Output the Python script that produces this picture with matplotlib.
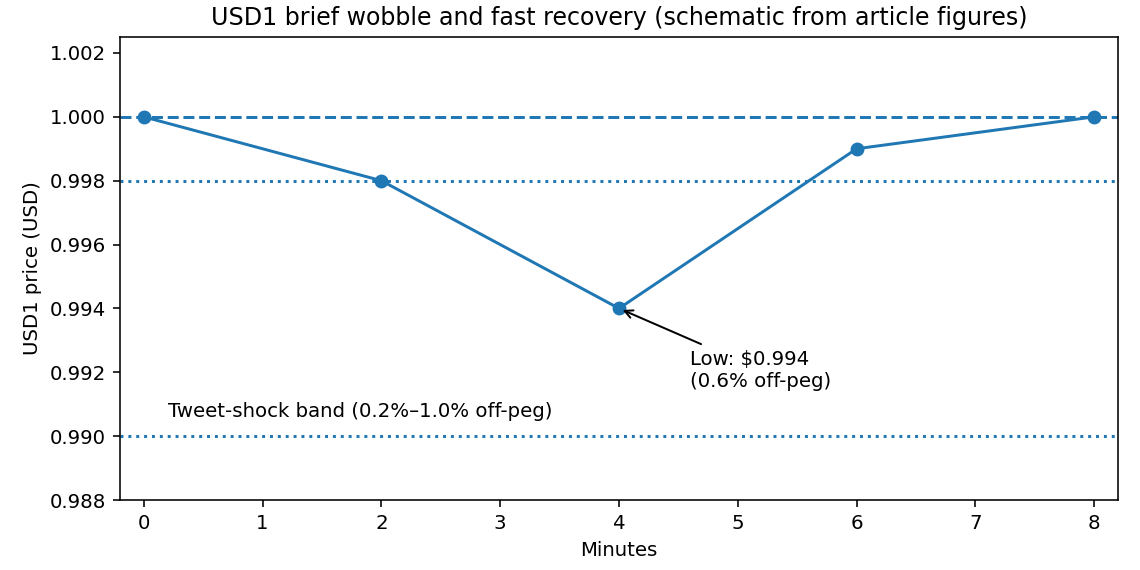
import matplotlib
matplotlib.use("Agg")
import matplotlib.pyplot as plt

minutes = [0, 2, 4, 6, 8]
price = [1.000, 0.998, 0.994, 0.999, 1.000]
peg = 1.000
band_upper = 0.998
band_lower = 0.990
low_label = "Low: $0.994\n(0.6% off-peg)"
band_label = "Tweet-shock band (0.2%–1.0% off-peg)"
title = "USD1 brief wobble and fast recovery (schematic from article figures)"

fig, ax = plt.subplots(figsize=(8, 4), dpi=142.5)
ax.plot(minutes, price, marker="o", color="C0")
ax.axhline(peg, linestyle="--", color="C0")
ax.axhline(band_upper, linestyle=":", color="C0")
ax.axhline(band_lower, linestyle=":", color="C0")
ax.annotate(low_label, xy=(4, 0.994), xytext=(4.6, 0.99155),
            arrowprops=dict(arrowstyle="->", color="black"))
ax.text(0.2, 0.9906, band_label)
ax.set_xlim(-0.2, 8.2)
ax.set_ylim(0.988, 1.0025)
ax.set_title(title)
ax.set_xlabel("Minutes")
ax.set_ylabel("USD1 price (USD)")
fig.subplots_adjust(left=120/1140, right=1118/1140, top=1-37/570, bottom=1-500/570)
fig.savefig("out.png", dpi=142.5)
